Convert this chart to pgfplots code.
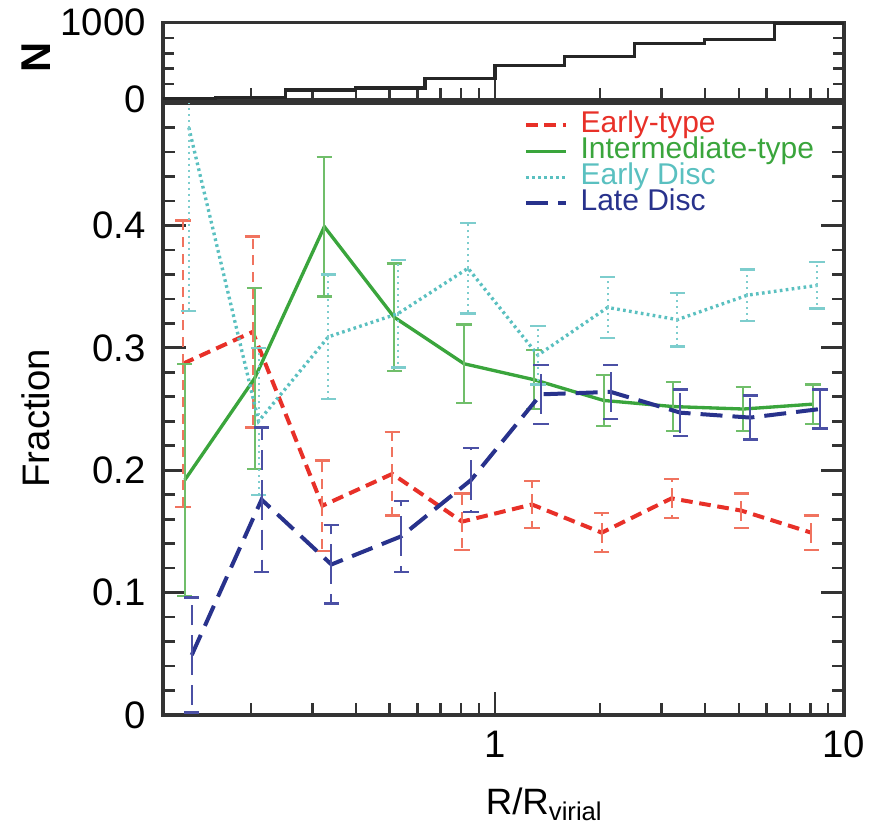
\documentclass[border=0pt]{standalone}
\usepackage{fontspec}
\setmainfont{Liberation Sans}
\usepackage{pgfplots}
\pgfplotsset{compat=1.18}

\definecolor{cR}{RGB}{232,48,40}
\definecolor{cRe}{RGB}{240,115,95}
\definecolor{cG}{RGB}{58,165,60}
\definecolor{cGe}{RGB}{112,190,106}
\definecolor{cC}{RGB}{90,192,192}
\definecolor{cCe}{RGB}{125,205,205}
\definecolor{cB}{RGB}{40,50,140}
\definecolor{cBe}{RGB}{75,80,165}

\pgfplotsset{
  myframe/.style={
    scale only axis, width=204.3pt,
    xmin=0.112, xmax=10,
    xtick={1,10}, xticklabels={1,10},
    minor xtick={0.2,0.3,0.4,0.5,0.6,0.7,0.8,0.9,2,3,4,5,6,7,8,9},
    xtick pos=left, ytick pos=both, yticklabel pos=left,
    tick align=inside,
    axis line style={line width=1pt, black!80},
    tick style={line width=0.8pt, black!80},
    major tick length=6.9pt, minor tick length=3.6pt,
    tick label style={font=\fontsize{11.5}{13}\selectfont},
    yticklabel style={xshift=-1.6pt},
    xticklabel style={yshift=-1.3pt},
  },
}

\begin{document}
\begin{tikzpicture}
\path[use as bounding box] (-48.9pt,-35.7pt) rectangle (216pt,214.5pt);

% histogram of N
\begin{axis}[xmode=log, myframe, at={(0,184.7pt)}, anchor=south west, height=23pt,
  /pgf/number format/assume math mode=true,
  ymin=0, ymax=1000, ytick={0,1000}, yticklabels={0,1000},
  minor ytick={200,400,600,800},
  xticklabels={}, minor tick length=3.3pt,
  ylabel={\bfseries N},
  ylabel style={at={(axis description cs:-0.1865,0.54)}, anchor=center,
    font=\fontsize{12.5}{14}\selectfont}]
\addplot[const plot, line width=1pt, black!85] coordinates {
  (0.1,5) (0.1585,22) (0.2512,120) (0.3981,146) (0.631,275)
  (1,440) (1.585,560) (2.512,731) (3.981,783) (6.31,990) (10,990)
};
\end{axis}

% fractions
\begin{axis}[xmode=log, myframe, at={(0,0)}, anchor=south west, height=183.6pt,
  /pgf/number format/assume math mode=true,
  ymin=0, ymax=0.5, ytick={0,0.1,0.2,0.3,0.4},
  minor ytick={0.02,0.04,0.06,0.08,0.12,0.14,0.16,0.18,0.22,0.24,0.26,0.28,
    0.32,0.34,0.36,0.38,0.42,0.44,0.46,0.48},
  xlabel={R/R\textsubscript{virial}},
  xlabel style={at={(axis description cs:0.473,-0.163)}, anchor=base west,
    inner sep=0pt, font=\fontsize{11}{13}\selectfont},
  ylabel={Fraction},
  ylabel style={at={(axis description cs:-0.1865,0.485)}, anchor=center,
    font=\fontsize{11.5}{13}\selectfont},
  legend style={at={(axis description cs:0.529,0.986)}, anchor=north west,
    draw=none, fill=none, inner sep=0pt, font=\fontsize{9}{9}\selectfont,
    nodes={inner sep=0pt, text height=6pt, text depth=1.8pt},
    column sep=3.8pt, row sep=0pt},
  legend cell align=left,
  legend image code/.code={\draw[#1] (0pt,0pt) -- (12pt,0pt);},
]
\addplot[cR, line width=1.2pt, dash pattern=on 3.5pt off 2pt,
  error bars/.cd, y dir=both, y explicit,
  error bar style={cRe, line width=0.6pt, dash pattern=on 3pt off 2pt},
  error mark options={rotate=90, mark size=2.3pt, line width=0.7pt, solid, cRe}]
  coordinates {
  (0.1277,0.287) +- (0,0.117)
  (0.2023,0.313) +- (0,0.078)
  (0.3206,0.171) +- (0,0.037)
  (0.5082,0.197) +- (0,0.034)
  (0.8054,0.158) +- (0,0.023)
  (1.277,0.172) +- (0,0.019)
  (2.023,0.149) +- (0,0.016)
  (3.206,0.177) +- (0,0.016)
  (5.082,0.167) +- (0,0.014)
  (8.054,0.149) +- (0,0.014)
};
\addlegendentry{\textcolor{cR}{Early-type}}

\addplot[cG, line width=1pt, solid,
  error bars/.cd, y dir=both, y explicit,
  error bar style={cGe, line width=0.6pt, solid},
  error mark options={rotate=90, mark size=2.3pt, line width=0.7pt, solid, cGe}]
  coordinates {
  (0.1293,0.192) +- (0,0.095)
  (0.2049,0.275) +- (0,0.074)
  (0.3247,0.399) +- (0,0.057)
  (0.5147,0.325) +- (0,0.044)
  (0.8157,0.287) +- (0,0.032)
  (1.293,0.274) +- (0,0.024)
  (2.049,0.257) +- (0,0.021)
  (3.247,0.252) +- (0,0.020)
  (5.147,0.250) +- (0,0.018)
  (8.157,0.254) +- (0,0.016)
};
\addlegendentry{\textcolor{cG}{Intermediate-type}}

\addplot[cC, line width=1pt, dash pattern=on 0.8pt off 1pt,
  error bars/.cd, y dir=both, y explicit,
  error bar style={cCe, line width=0.6pt, dash pattern=on 0.6pt off 1.2pt},
  error mark options={rotate=90, mark size=2.3pt, line width=0.7pt, solid, cCe}]
  coordinates {
  (0.1328,0.480) +- (0,0.150)
  (0.2104,0.240) +- (0,0.060)
  (0.3334,0.309) +- (0,0.051)
  (0.5285,0.328) +- (0,0.044)
  (0.8375,0.365) +- (0,0.037)
  (1.328,0.294) +- (0,0.024)
  (2.104,0.333) +- (0,0.025)
  (3.334,0.323) +- (0,0.022)
  (5.285,0.343) +- (0,0.021)
  (8.375,0.351) +- (0,0.019)
};
\addlegendentry{\textcolor{cC}{Early Disc}}

\addplot[cB, line width=1.2pt, dash pattern=on 6.6pt off 3pt,
  error bars/.cd, y dir=both, y explicit,
  error bar style={cBe, line width=0.6pt, dash pattern=on 6pt off 3pt},
  error mark options={rotate=90, mark size=2.3pt, line width=0.7pt, solid, cBe}]
  coordinates {
  (0.1354,0.049) +- (0,0.047)
  (0.2146,0.176) +- (0,0.059)
  (0.3401,0.123) +- (0,0.032)
  (0.5390,0.146) +- (0,0.029)
  (0.8543,0.192) +- (0,0.026)
  (1.354,0.262) +- (0,0.024)
  (2.146,0.264) +- (0,0.022)
  (3.401,0.247) +- (0,0.019)
  (5.390,0.243) +- (0,0.018)
  (8.543,0.250) +- (0,0.016)
};
\addlegendentry{\textcolor{cB}{Late Disc}}
\end{axis}
\end{tikzpicture}
\end{document}
